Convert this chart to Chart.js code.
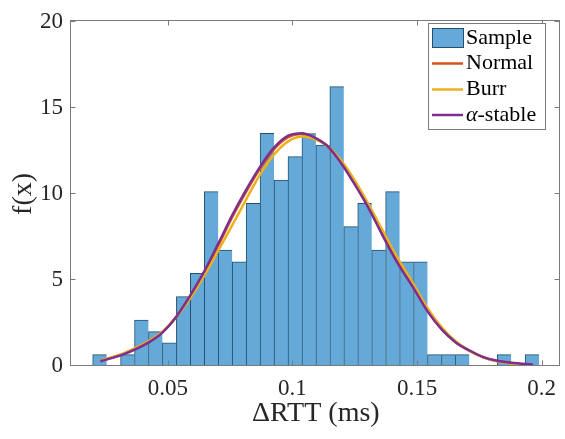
<!DOCTYPE html>
<html>
<head>
<meta charset="utf-8">
<script src="https://cdn.jsdelivr.net/npm/chart.js@4.4.1/dist/chart.umd.min.js"></script>
<style>
  html, body { margin: 0; padding: 0; background: #fff; }
  #wrap { width: 565px; height: 439px; }
</style>
</head>
<body>
<div id="wrap"><canvas id="c" width="565" height="439"></canvas></div>
<script>
// histogram bins (centres) and their density values
const binCenters = [
  0.0226, 0.0282, 0.0338, 0.0394, 0.0450, 0.0506, 0.0562, 0.0618,
  0.0674, 0.0730, 0.0786, 0.0842, 0.0898, 0.0954, 0.1010, 0.1066,
  0.1122, 0.1178, 0.1234, 0.1290, 0.1346, 0.1402, 0.1458, 0.1514,
  0.1570, 0.1626, 0.1682, 0.1738, 0.1794, 0.1850, 0.1906, 0.1962
];
const density = [
  0.66, 0, 0.66, 2.67, 2.0, 1.34, 4.03, 5.39,
  10.13, 6.74, 6.06, 9.45, 13.52, 10.81, 12.17, 13.5,
  12.84, 16.23, 8.1, 9.45, 6.74, 10.13, 6.06, 6.06,
  0.66, 0.66, 0.66, 0, 0, 0.66, 0, 0.66
];

// fitted pdf curves
const curveX = [
  0.0229, 0.0319, 0.0423, 0.0478, 0.0534, 0.0590, 0.0646, 0.0702, 0.0759, 0.0815,
  0.0871, 0.0927, 0.0983, 0.1039, 0.1083, 0.1139, 0.1195, 0.1250, 0.1306, 0.1362,
  0.1418, 0.1488, 0.1543, 0.1599, 0.1656, 0.1711, 0.1766, 0.1822, 0.1878, 0.1966
];
const normalPdf = [
  0.30, 0.70, 1.40, 1.97, 2.88, 4.08, 5.45, 7.00, 8.68, 10.15,
  11.5, 12.62, 13.3, 13.48, 13.3, 12.8, 11.82, 10.62, 9.24, 7.66,
  6.15, 4.52, 3.18, 2.14, 1.37, 0.88, 0.51, 0.29, 0.17, 0.07
];
const burrPdf = [
  0.30, 0.72, 1.45, 2.0, 2.85, 3.95, 5.25, 6.70, 8.20, 9.70,
  11.15, 12.3, 13.05, 13.33, 13.22, 12.8, 11.95, 10.78, 9.38, 7.88,
  6.38, 4.70, 3.35, 2.25, 1.42, 0.88, 0.50, 0.27, 0.15, 0.05
];
const stablePdf = [
  0.28, 0.66, 1.37, 1.94, 2.86, 4.10, 5.50, 7.11, 8.78, 10.26,
  11.6, 12.7, 13.38, 13.53, 13.32, 12.8, 11.8, 10.55, 9.16, 7.58,
  6.08, 4.48, 3.16, 2.13, 1.37, 0.90, 0.52, 0.30, 0.19, 0.08
];

const xTicks = [0.05, 0.1, 0.15, 0.2];
const yTicks = [0, 5, 10, 15, 20];
const seriesLabels = ['Sample', 'Normal', 'Burr', 'α-stable'];

const FONT = 'Liberation Serif';
const TEXT = '#262626';
const AXIS = '#7a7a7a';
const BAR_FILL = '#64a9d7';
const BAR_EDGE = '#24506e';
const COLORS = ['#D95319', '#EDB120', '#7E2F8E'];

// box round the axes with inward ticks, MATLAB style
const framePlugin = {
  id: 'frame',
  afterDatasetsDraw(chart) {
    const { ctx, chartArea: a, scales } = chart;
    const l = Math.floor(a.left) - 0.5, r = Math.floor(a.right) - 0.5;
    const t = Math.floor(a.top) - 0.5, b = Math.floor(a.bottom) - 0.5;
    const len = 5;
    ctx.save();
    ctx.strokeStyle = AXIS;
    ctx.lineWidth = 1;
    ctx.strokeRect(l, t, r - l, b - t);
    ctx.beginPath();
    xTicks.forEach(v => {
      const px = Math.round(scales.x.getPixelForValue(v)) + 0.5;
      ctx.moveTo(px, b); ctx.lineTo(px, b - len);
      ctx.moveTo(px, t); ctx.lineTo(px, t + len);
    });
    yTicks.forEach(v => {
      const py = Math.round(scales.y.getPixelForValue(v)) - 0.5;
      ctx.moveTo(l, py); ctx.lineTo(l + len, py);
      ctx.moveTo(r, py); ctx.lineTo(r - len, py);
    });
    ctx.stroke();
    ctx.restore();
  }
};

// legend box drawn inside the axes, top right
const legendPlugin = {
  id: 'boxLegend',
  afterDatasetsDraw(chart) {
    const ctx = chart.ctx;
    const bx = 428.5, by = 23.5, bw = 117, bh = 106;
    ctx.save();
    ctx.fillStyle = '#fff';
    ctx.fillRect(bx, by, bw, bh);
    ctx.strokeStyle = AXIS;
    ctx.lineWidth = 1;
    ctx.strokeRect(bx, by, bw, bh);

    const rows = [38, 63.5, 89.5, 115];
    const x0 = 432, x1 = 463, tx = 466;
    // Sample patch
    ctx.fillStyle = BAR_FILL;
    ctx.fillRect(x0, 28.5, x1 - x0, 19);
    ctx.strokeStyle = BAR_EDGE;
    ctx.strokeRect(x0 + 0.5, 28.5, x1 - x0, 19);
    // line entries
    ctx.lineWidth = 2.5;
    for (let i = 1; i < 4; i++) {
      ctx.strokeStyle = COLORS[i - 1];
      ctx.beginPath();
      ctx.moveTo(x0, rows[i]);
      ctx.lineTo(x1, rows[i]);
      ctx.stroke();
    }
    ctx.fillStyle = '#000';
    ctx.textBaseline = 'middle';
    ctx.textAlign = 'left';
    for (let i = 0; i < 4; i++) {
      const label = seriesLabels[i];
      if (label.startsWith('α')) {
        ctx.font = 'italic 22px ' + FONT;
        ctx.fillText('α', tx, rows[i]);
        const w = ctx.measureText('α').width;
        ctx.font = '22px ' + FONT;
        ctx.fillText(label.slice(1), tx + w, rows[i]);
      } else {
        ctx.font = '22px ' + FONT;
        ctx.fillText(label, tx, rows[i]);
      }
    }
    ctx.restore();
  }
};

const lineDs = (label, ys, color, order) => ({
  type: 'line',
  label,
  data: curveX.map((x, i) => ({ x, y: ys[i] })),
  borderColor: color,
  backgroundColor: color,
  borderWidth: 2.5,
  pointRadius: 0,
  cubicInterpolationMode: 'monotone',
  fill: false,
  order
});

new Chart(document.getElementById('c'), {
  type: 'bar',
  data: {
    datasets: [
      {
        type: 'bar',
        label: seriesLabels[0],
        data: binCenters.map((x, i) => ({ x, y: density[i] })),
        backgroundColor: BAR_FILL,
        borderColor: BAR_EDGE,
        borderWidth: { top: 1, left: 1, right: 0, bottom: 0 },
        borderSkipped: false,
        barPercentage: 1,
        categoryPercentage: 1,
        grouped: false,
        order: 4
      },
      lineDs(seriesLabels[1], normalPdf, COLORS[0], 3),
      lineDs(seriesLabels[2], burrPdf, COLORS[1], 2),
      lineDs(seriesLabels[3], stablePdf, COLORS[2], 1)
    ]
  },
  options: {
    responsive: false,
    animation: false,
    devicePixelRatio: 1,
    layout: { padding: { top: 12, right: 1, left: 0, bottom: 0 } },
    plugins: { legend: { display: false }, tooltip: { enabled: false } },
    scales: {
      x: {
        type: 'linear',
        offset: false,
        min: 0.0111,
        max: 0.2077,
        afterBuildTicks: s => { s.ticks = xTicks.map(v => ({ value: v })); },
        afterFit: s => { s.height = 73; },
        grid: { display: false, drawTicks: false },
        border: { display: false },
        ticks: {
          padding: 9,
          maxRotation: 0,
          autoSkip: false,
          color: TEXT,
          font: { family: FONT, size: 23 },
          callback: v => String(v)
        },
        title: {
          display: true,
          text: 'ΔRTT (ms)',
          color: TEXT,
          font: { family: FONT, size: 28 },
          padding: { top: 0, bottom: 9 }
        }
      },
      y: {
        type: 'linear',
        min: 0,
        max: 20,
        afterBuildTicks: s => { s.ticks = yTicks.map(v => ({ value: v })); },
        afterFit: s => { s.width = 71; },
        grid: { display: false, drawTicks: false },
        border: { display: false },
        ticks: {
          padding: 8,
          color: TEXT,
          font: { family: FONT, size: 23 },
          callback: v => String(v)
        },
        title: {
          display: true,
          text: 'f(x)',
          color: TEXT,
          font: { family: FONT, size: 28 },
          padding: { top: 7, bottom: 0 }
        }
      }
    }
  },
  plugins: [framePlugin, legendPlugin]
});
</script>
</body>
</html>
